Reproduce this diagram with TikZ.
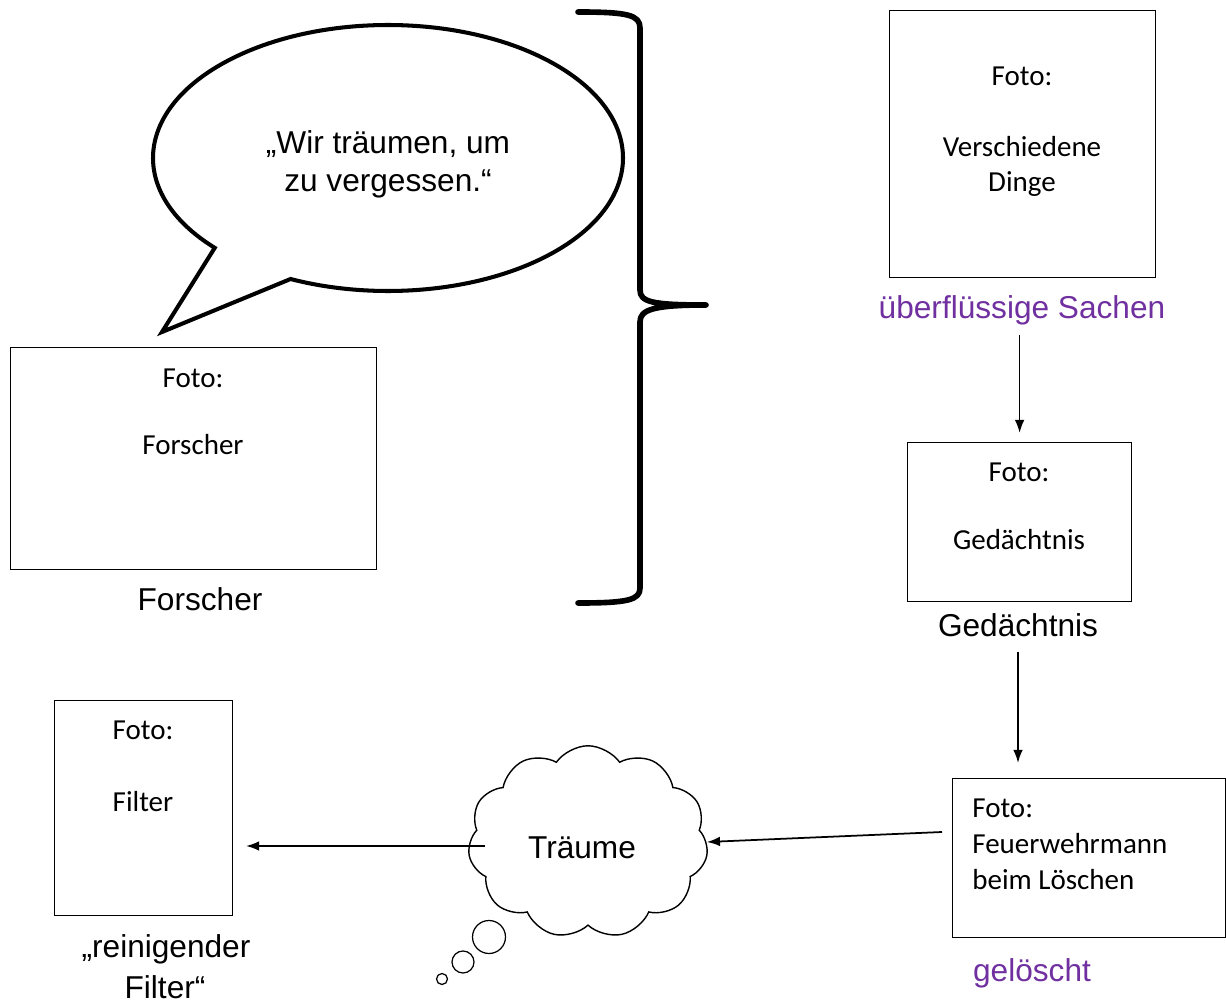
\documentclass[tikz,border=0pt]{standalone}
\usepackage{fontspec}
\setmainfont{Liberation Sans}
\newfontfamily\calibri{Carlito}
\usetikzlibrary{arrows.meta,shapes.symbols}
\definecolor{lila}{HTML}{7030A0}
\tikzset{
  foto/.style={draw, line width=0.7pt, inner sep=0pt, anchor=north west},
  fototext/.style={font=\calibri\fontsize{16.5}{20}\selectfont, inner sep=0pt, anchor=base},
  caption/.style={font=\fontsize{18}{21.5}\selectfont, inner sep=0pt, anchor=base},
  pfeil/.style={-{Latex[length=7.5pt,width=5.5pt]}, line width=1pt},
  punkt/.style={circle, draw, line width=0.7pt, inner sep=0pt}
}
\begin{document}
\begin{tikzpicture}[x=0.02cm,y=-0.02cm]
\useasboundingbox (0,0) rectangle (1226,1003);
% Sprechblase
\draw[line width=2.3pt, fill=white] (388,158) ++(137.5:235 and 133) arc[start angle=137.5, end angle=474.5, x radius=235, y radius=133] -- (162,332) -- cycle;
\node[caption] (zitat1) at (388,154) {„Wir träumen, um};
\node[caption] (zitat2) at (388,192) {zu vergessen.“};
% Klammer
\draw[line width=3.2pt, line cap=round, line join=round] (578,12) .. controls (628,12) and (640,15) .. (640,28) -- (640,290) .. controls (640,302) and (652,305) .. (706,305) .. controls (652,305) and (640,310) .. (640,322) -- (640,588) .. controls (640,600) and (628,603) .. (578,603);
% Fotos
\node[foto, minimum width=7.32cm, minimum height=4.44cm] (forscher) at (10,347) {};
\node[fototext] (forscherfoto) at (193,387) {Foto:};
\node[fototext] (forschertext) at (193,454) {Forscher};
\node[caption] (forscherlabel) at (200,610) {Forscher};
\node[foto, minimum width=5.32cm, minimum height=5.34cm] (dinge) at (889,10) {};
\node[fototext] (dingefoto) at (1022,86) {Foto:};
\node[fototext] (dingetext1) at (1022,157) {Verschiedene};
\node[fototext] (dingetext2) at (1022,192) {Dinge};
\node[caption, text=lila] (sachen) at (1022,318) {überflüssige Sachen};
\node[foto, minimum width=4.48cm, minimum height=3.18cm] (gedaechtnis) at (907,442) {};
\node[fototext] (gedaechtnisfoto) at (1019,481) {Foto:};
\node[fototext] (gedaechtnistext) at (1019,549) {Gedächtnis};
\node[caption] (gedaechtnislabel) at (1018,636) {Gedächtnis};
\node[foto, minimum width=5.46cm, minimum height=3.18cm] (feuer) at (952,778) {};
\node[fototext, anchor=base west] (feuerfoto) at (972,817) {Foto:};
\node[fototext, anchor=base west] (feuertext1) at (972,853) {Feuerwehrmann};
\node[fototext, anchor=base west] (feuertext2) at (972,889) {beim Löschen};
\node[caption, text=lila] (geloescht) at (1032,981) {gelöscht};
\node[foto, minimum width=3.56cm, minimum height=4.3cm] (filter) at (54,700) {};
\node[fototext] (filterfoto) at (143,739) {Foto:};
\node[fototext] (filtertext) at (143,811) {Filter};
\node[caption] (filterlabel1) at (166,957) {„reinigender};
\node[caption] (filterlabel2) at (165,998) {Filter“};
% Traumwolke
\node[cloud, draw, line width=0.8pt, cloud puffs=11, cloud puff arc=110, aspect=1.27, minimum width=4.8cm, minimum height=3.85cm] (traum) at (588,842) {};
\node[caption] (traumtext) at (582,858) {Träume};
\foreach \x/\y/\r [count=\i] in {489/937/0.66, 463/962/0.44, 442/979/0.22}
  \node[punkt, minimum size=\r cm] (punkt\i) at (\x,\y) {};
% Pfeile
\coordinate (feueraus) at (942,832);
\coordinate (traumaus) at (485,846);
\coordinate (filterein) at (246,846);
\draw[pfeil, shorten <=0.2cm, shorten >=0.18cm] (sachen.south -| gedaechtnis.north) -- (gedaechtnis.north);
\draw[pfeil, shorten <=0.3cm, shorten >=0.3cm] (gedaechtnislabel.south) -- (gedaechtnislabel.south |- feuer.north);
\draw[pfeil] (feueraus) -- (traum.east);
\draw[pfeil] (traumaus) -- (filterein);
\end{tikzpicture}
\end{document}
